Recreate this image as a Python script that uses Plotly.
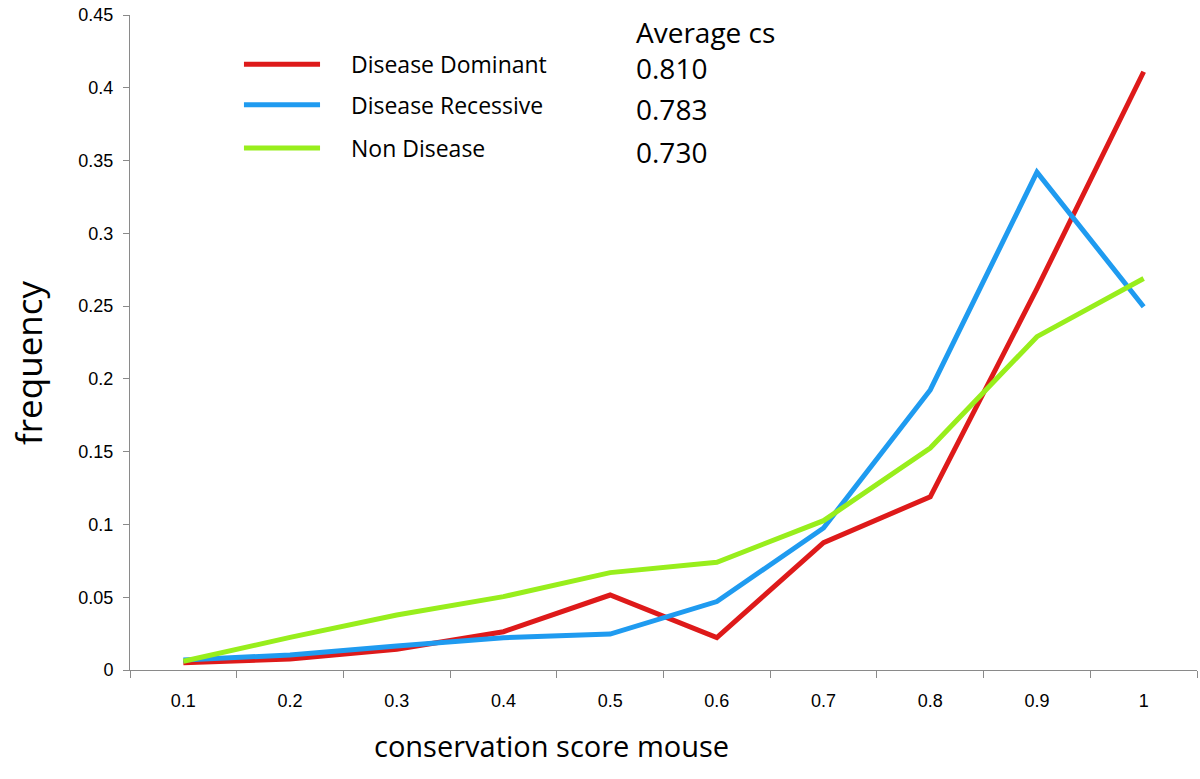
import plotly.graph_objects as go

categories = ["0.1", "0.2", "0.3", "0.4", "0.5", "0.6", "0.7", "0.8", "0.9", "1"]
disease_dominant = [0.005, 0.0076, 0.0142, 0.0263, 0.0515, 0.0222, 0.0875, 0.119, 0.262, 0.411]
disease_recessive = [0.0069, 0.0103, 0.0165, 0.0222, 0.0247, 0.047, 0.0976, 0.1924, 0.342, 0.2496]
non_disease = [0.006, 0.0224, 0.0378, 0.0504, 0.0669, 0.074, 0.1026, 0.1525, 0.229, 0.269]

series_names = ["Disease Dominant", "Disease Recessive", "Non Disease"]
average_cs = ["0.810", "0.783", "0.730"]
colors = ["#DE1A1A", "#1F9BF0", "#98EE1C"]

fig = go.Figure()
for name, vals, col in zip(series_names, [disease_dominant, disease_recessive, non_disease], colors):
    fig.add_trace(go.Scatter(x=categories, y=vals, mode="lines", name=name,
                             line=dict(color=col, width=5), showlegend=False))

# Manual legend
leg_y = [0.925, 0.863, 0.797]
for name, avg, col, yy in zip(series_names, average_cs, colors, leg_y):
    fig.add_shape(type="line", xref="paper", yref="paper", x0=0.1068, x1=0.1781, y0=yy, y1=yy,
                  line=dict(color=col, width=5))
    fig.add_annotation(xref="paper", yref="paper", x=0.205, y=yy, xanchor="left", yanchor="middle",
                       text=name, showarrow=False, font=dict(family="Open Sans", size=23, color="black"))
    fig.add_annotation(xref="paper", yref="paper", x=0.472, y=yy - 0.006, xanchor="left", yanchor="middle",
                       text=avg, showarrow=False, font=dict(family="Open Sans", size=28, color="black"))
fig.add_annotation(xref="paper", yref="paper", x=0.472, y=0.974, xanchor="left", yanchor="middle",
                   text="Average cs", showarrow=False, font=dict(family="Open Sans", size=28, color="black"))

# Axis titles
fig.add_annotation(xref="paper", yref="paper", x=0.395, y=-0.115, xanchor="center", yanchor="middle",
                   text="conservation score mouse", showarrow=False,
                   font=dict(family="Open Sans", size=29, color="black"))
fig.add_annotation(xref="paper", yref="paper", x=-0.0945, y=0.469, xanchor="center", yanchor="middle",
                   text="frequency", textangle=-90, showarrow=False,
                   font=dict(family="Open Sans", size=35, color="black"))

fig.update_layout(
    width=1200, height=779,
    margin=dict(l=130, r=3, t=15, b=109),
    plot_bgcolor="white", paper_bgcolor="white",
    font=dict(family="Arial, Liberation Sans", size=18, color="black"),
)
fig.update_xaxes(
    type="category", range=[-0.5, 9.5], tickson="boundaries",
    showline=True, linecolor="#8a8a8a", linewidth=1,
    ticks="outside", ticklen=7, tickcolor="#8a8a8a",
    showgrid=False, zeroline=False, ticklabelstandoff=14,
    tickfont=dict(family="Arial, Liberation Sans", size=18, color="black"),
)
fig.update_yaxes(
    range=[0, 0.45], dtick=0.05, tickformat="~g",
    showline=True, linecolor="#8a8a8a", linewidth=1,
    ticks="outside", ticklen=6, tickcolor="#8a8a8a",
    showgrid=False, zeroline=False, ticklabelstandoff=6,
    tickfont=dict(family="Arial, Liberation Sans", size=18, color="black"),
)

fig.write_html("out.html", config={"displayModeBar": False},
               post_script="document.body.style.margin='0';")
